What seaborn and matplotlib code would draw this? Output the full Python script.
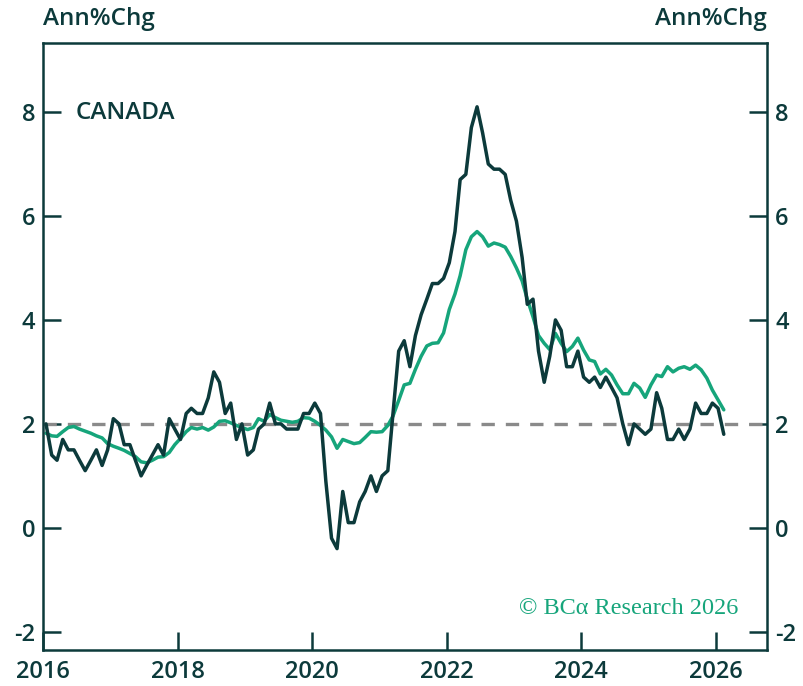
import pandas as pd
import numpy as np
import seaborn as sns
import matplotlib.pyplot as plt

# Canada, annual % change, monthly Jan 2016 - Feb 2026
headline = [
    2.0, 1.4, 1.3, 1.7, 1.5, 1.5, 1.3, 1.1, 1.3, 1.5, 1.2, 1.5,   # 2016
    2.1, 2.0, 1.6, 1.6, 1.3, 1.0, 1.2, 1.4, 1.6, 1.4, 2.1, 1.9,   # 2017
    1.7, 2.2, 2.3, 2.2, 2.2, 2.5, 3.0, 2.8, 2.2, 2.4, 1.7, 2.0,   # 2018
    1.4, 1.5, 1.9, 2.0, 2.4, 2.0, 2.0, 1.9, 1.9, 1.9, 2.2, 2.2,   # 2019
    2.4, 2.2, 0.9, -0.2, -0.4, 0.7, 0.1, 0.1, 0.5, 0.7, 1.0, 0.7, # 2020
    1.0, 1.1, 2.2, 3.4, 3.6, 3.1, 3.7, 4.1, 4.4, 4.7, 4.7, 4.8,   # 2021
    5.1, 5.7, 6.7, 6.8, 7.7, 8.1, 7.6, 7.0, 6.9, 6.9, 6.8, 6.3,   # 2022
    5.9, 5.2, 4.3, 4.4, 3.4, 2.8, 3.3, 4.0, 3.8, 3.1, 3.1, 3.4,   # 2023
    2.9, 2.8, 2.9, 2.7, 2.9, 2.7, 2.5, 2.0, 1.6, 2.0, 1.9, 1.8,   # 2024
    1.9, 2.6, 2.3, 1.7, 1.7, 1.9, 1.7, 1.9, 2.4, 2.2, 2.2, 2.4,   # 2025
    2.3, 1.8,                                                     # 2026
]
core = [
    1.82, 1.77, 1.76, 1.85, 1.93, 1.95, 1.90, 1.86, 1.82, 1.77, 1.73, 1.62,
    1.57, 1.53, 1.49, 1.43, 1.37, 1.27, 1.25, 1.30, 1.36, 1.37, 1.45, 1.60,
    1.72, 1.85, 1.93, 1.90, 1.93, 1.88, 1.94, 2.05, 2.06, 2.02, 1.97, 1.93,
    1.89, 1.93, 2.10, 2.05, 2.18, 2.12, 2.07, 2.05, 2.03, 2.05, 2.12, 2.11,
    2.05, 1.97, 1.88, 1.75, 1.53, 1.70, 1.66, 1.62, 1.64, 1.74, 1.85, 1.84,
    1.85, 1.97, 2.15, 2.45, 2.75, 2.78, 3.05, 3.30, 3.50, 3.55, 3.56, 3.75,
    4.20, 4.50, 4.85, 5.35, 5.60, 5.70, 5.60, 5.42, 5.48, 5.45, 5.40, 5.22,
    5.00, 4.75, 4.40, 4.06, 3.70, 3.55, 3.43, 3.74, 3.55, 3.39, 3.49, 3.65,
    3.42, 3.23, 3.20, 2.96, 3.05, 2.94, 2.75, 2.58, 2.58, 2.78, 2.69, 2.51,
    2.75, 2.94, 2.91, 3.10, 3.00, 3.07, 3.10, 3.05, 3.13, 3.04, 2.88, 2.65,
    2.46, 2.27,
]
y_ticks = [-2, 0, 2, 4, 6, 8]
x_years = [2016, 2018, 2020, 2022, 2024, 2026]

dates = pd.date_range('2016-01-01', periods=len(headline), freq='MS') + pd.Timedelta(days=14)
df = pd.DataFrame({'date': dates, 'Headline': headline, 'Core': core})
long = df.melt(id_vars='date', var_name='series', value_name='value')

sns.set_style('ticks')
plt.rcParams['font.family'] = ['Open Sans', 'DejaVu Sans']
plt.rcParams['font.weight'] = 'semibold'
plt.rcParams['axes.unicode_minus'] = False

dark = '#0c3a3b'
green = '#16a57b'

fig = plt.figure(figsize=(8.04, 6.86), dpi=100)
ax = fig.add_axes([0.054, 0.0525, 0.9, 0.885])

ax.axhline(2, color='#8a8a8a', lw=2.4, dashes=(4, 3.3), zorder=1)
sns.lineplot(data=long, x='date', y='value', hue='series', hue_order=['Core', 'Headline'],
             palette=[green, dark], lw=2.5, legend=False, ax=ax)

ax.set_xlim(pd.Timestamp('2016-01-01'), pd.Timestamp('2026-10-08'))
ax.set_ylim(-2.35, 9.33)
ax.set_yticks(y_ticks)
ax.set_yticklabels([str(v) for v in y_ticks])
ax.set_xticks([pd.Timestamp(f'{y}-01-01') for y in x_years])
ax.set_xticklabels([str(y) for y in x_years])
ax.set_xlabel('')
ax.set_ylabel('')

for s in ax.spines.values():
    s.set_visible(True)
    s.set_color(dark)
    s.set_linewidth(1.8)
ax.tick_params(axis='both', direction='in', length=13, width=1.8, color=dark,
               labelcolor=dark, labelsize=17)
ax.tick_params(axis='x', pad=7)
ax.tick_params(axis='y', right=True, labelright=True, pad=6)

fig.text(0.054, 0.972, 'Ann%Chg', ha='left', va='center', fontsize=17.5, color=dark)
fig.text(0.954, 0.972, 'Ann%Chg', ha='right', va='center', fontsize=17.5, color=dark)
ax.text(0.045, 0.885, 'CANADA', transform=ax.transAxes, ha='left', va='center',
        fontsize=17.5, color=dark)
ax.text(0.96, 0.069, '© BCα Research 2026', transform=ax.transAxes, ha='right', va='center',
        fontsize=17.5, fontweight='normal', color=green, family='Liberation Serif')

plt.savefig('out.png', dpi=100)
